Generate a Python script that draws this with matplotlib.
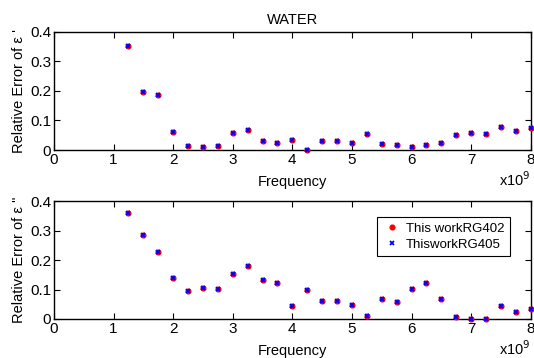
import matplotlib
matplotlib.use("Agg")
import matplotlib.pyplot as plt
from matplotlib.ticker import FuncFormatter, MultipleLocator

plt.rcParams['font.family'] = ['Liberation Sans', 'DejaVu Sans']

freq = [1.25e9 + 0.25e9 * i for i in range(28)]

real_rg402 = [0.353, 0.198, 0.186, 0.062, 0.015, 0.010, 0.012, 0.058, 0.069, 0.032,
              0.024, 0.035, 0.001, 0.029, 0.029, 0.025, 0.055, 0.021, 0.018, 0.010,
              0.016, 0.024, 0.050, 0.058, 0.055, 0.078, 0.064, 0.076]
real_rg405 = [0.353, 0.198, 0.186, 0.062, 0.015, 0.010, 0.012, 0.058, 0.069, 0.032,
              0.024, 0.035, 0.001, 0.029, 0.029, 0.025, 0.055, 0.021, 0.018, 0.010,
              0.016, 0.024, 0.050, 0.058, 0.055, 0.078, 0.064, 0.076]
imag_rg402 = [0.360, 0.286, 0.227, 0.139, 0.094, 0.105, 0.103, 0.153, 0.179, 0.134,
              0.122, 0.044, 0.097, 0.061, 0.061, 0.049, 0.010, 0.067, 0.058, 0.103,
              0.122, 0.067, 0.008, 0.001, 0.001, 0.044, 0.022, 0.033]
imag_rg405 = [0.360, 0.286, 0.227, 0.139, 0.094, 0.105, 0.103, 0.153, 0.179, 0.134,
              0.122, 0.044, 0.097, 0.061, 0.061, 0.049, 0.010, 0.067, 0.058, 0.103,
              0.122, 0.067, 0.008, 0.001, 0.001, 0.044, 0.022, 0.033]

fig = plt.figure(figsize=(5.34, 3.58), dpi=100)
ax1 = fig.add_axes([0.101, 0.581, 0.893, 0.330])
ax2 = fig.add_axes([0.101, 0.109, 0.893, 0.329])

fmt = FuncFormatter(lambda v, p: f"{v/1e9:g}")
for ax, r, b, lab in [(ax1, real_rg402, real_rg405, "Relative Error of ε '"),
                      (ax2, imag_rg402, imag_rg405, 'Relative Error of ε "')]:
    ax.plot(freq, r, linestyle='none', marker='o', ms=3.4, color='red', mec='red',
            label='This workRG402', clip_on=False, zorder=3)
    ax.plot(freq, b, linestyle='none', marker='x', ms=3.2, mew=1.3, color='blue',
            label='ThisworkRG405', clip_on=False, zorder=4)
    ax.set_xlim(0, 8e9)
    ax.set_ylim(0, 0.4)
    ax.xaxis.set_major_locator(MultipleLocator(1e9))
    ax.xaxis.set_major_formatter(fmt)
    ax.yaxis.set_major_locator(MultipleLocator(0.1))
    ax.yaxis.set_major_formatter(FuncFormatter(lambda v, p: f"{v:g}"))
    ax.tick_params(direction='in', top=True, right=True, labelsize=11,
                   length=4, width=0.8, pad=2)
    for s in ax.spines.values():
        s.set_linewidth(1.0)
    ax.set_xlabel('Frequency', fontsize=10.5, labelpad=6)
    ax.set_ylabel(lab, fontsize=10.5, labelpad=3)
    ax.text(1.0, -0.17, 'x10$^{9}$', transform=ax.transAxes, ha='right', va='top',
            fontsize=10.5)

ax1.set_title('WATER', fontsize=10.5, pad=6)
leg = ax2.legend(loc='upper right', bbox_to_anchor=(0.97, 0.92), fontsize=9.5,
                 fancybox=False, edgecolor='black', framealpha=1, handletextpad=0.3,
                 borderpad=0.4, labelspacing=0.3, handlelength=1.5)
leg.get_frame().set_linewidth(0.8)

fig.savefig('out.png', dpi=100)
